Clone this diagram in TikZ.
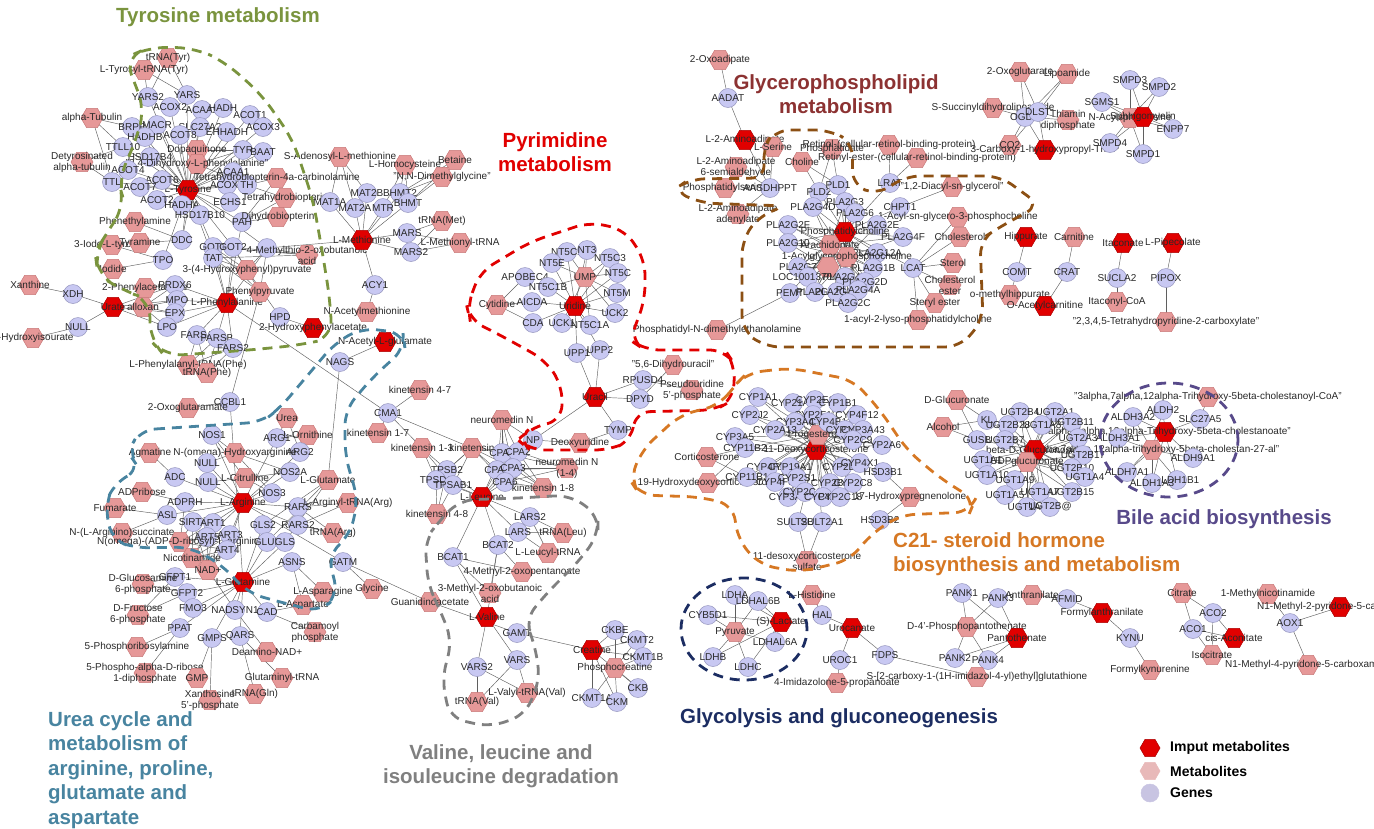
\documentclass[tikz,border=0pt]{standalone}
\usepackage{fontspec}
\setmainfont{Liberation Sans}
\usetikzlibrary{shapes.geometric}
\pgfdeclarelayer{bg}
\pgfsetlayers{bg,main}
\definecolor{genefill}{RGB}{200,200,242}
\definecolor{genedraw}{RGB}{150,150,190}
\definecolor{metfill}{RGB}{230,152,152}
\definecolor{metdraw}{RGB}{200,120,120}
\definecolor{inpfill}{RGB}{225,0,0}
\definecolor{inpdraw}{RGB}{170,0,0}
\definecolor{labcol}{RGB}{40,40,40}
\definecolor{edgecol}{RGB}{95,95,95}
\definecolor{olivec}{RGB}{122,148,62}
\definecolor{bluec}{RGB}{72,132,160}
\definecolor{pyrc}{RGB}{225,0,0}
\definecolor{grayc}{RGB}{128,128,128}
\definecolor{orangec}{RGB}{214,120,36}
\definecolor{brownc}{RGB}{140,80,20}
\definecolor{navyc}{RGB}{28,45,98}
\definecolor{purplec}{RGB}{88,74,138}
\definecolor{glycc}{RGB}{140,50,50}
\definecolor{legmet}{RGB}{232,185,185}
\definecolor{leggene}{RGB}{200,196,226}
\tikzset{
  gene/.style={circle, fill=genefill, draw=genedraw, line width=0.5pt, minimum size=19pt, inner sep=0pt},
  met/.style={regular polygon, regular polygon sides=6, fill=metfill, draw=metdraw, line width=0.5pt, minimum size=22pt, inner sep=0pt},
  inp/.style={met, fill=inpfill, draw=inpdraw},
  every label/.style={font=\fontsize{10}{11}\selectfont, text=labcol, align=center, inner sep=0pt},
  edge/.style={draw=edgecol, line width=0.45pt},
  region/.style={line width=2.8pt, dash pattern=on 10pt off 7pt},
  ttl/.style={font=\bfseries\fontsize{20.5}{24.5}\selectfont, inner sep=0pt},
  legtext/.style={font=\bfseries\fontsize{14}{16}\selectfont, anchor=west, inner sep=0pt},
}
\newcommand{\gnode}[4]{\node[gene,label={center:{#4}}] (#1) at (#2,#3) {};}
\newcommand{\mnode}[4]{\node[met,label={center:{#4}}] (#1) at (#2,#3) {};}
\newcommand{\inode}[4]{\node[inp,label={center:{#4}}] (#1) at (#2,#3) {};}
\newcommand{\hub}[2]{\foreach \hh in {#2}{\draw[edge] (#1.center) -- (\hh.center);}}
\begin{document}
\begin{tikzpicture}[x=1pt,y=-1pt]
\useasboundingbox (0,0) rectangle (1374,828);
% ---------------- Tyrosine
\inode{tyr}{188}{190}{L-Tyrosine}
\mnode{trnatyr}{168}{58}{tRNA(Tyr)}
\mnode{tyrtrna}{144}{70}{L-Tyrosyl-tRNA(Tyr)}
\gnode{yars2}{148}{97}{YARS2}
\gnode{yars}{187}{95}{YARS}
\gnode{acox2}{170}{107}{ACOX2}
\gnode{acaa2}{202}{110}{ACAA2}
\gnode{hadh}{223}{108}{HADH}
\gnode{acot1}{250}{115}{ACOT1}
\gnode{acox3}{263}{127}{ACOX3}
\mnode{atub}{92}{118}{alpha-Tubulin}
\gnode{brpp}{132}{127}{BRPP}
\gnode{macr}{157}{125}{MACR}
\gnode{slc}{200}{127}{SLC27A2}
\gnode{acot8}{180}{135}{ACOT8}
\gnode{ehhadh}{227}{132}{EHHADH}
\gnode{hadhb}{145}{137}{HADHB}
\gnode{ttll}{123}{147}{TTLL10}
\gnode{hsd4}{150}{157}{HSD17B4}
\mnode{dopaq}{197}{150}{Dopaquinone}
\gnode{tyrg}{243}{150}{TYR}
\gnode{baat}{263}{152}{BAAT}
\mnode{detub}{82}{162}{Detyrosinated\\alpha-tubulin}
\mnode{dopa}{197}{164}{"3,4-Dihydroxy-L-phenylalanine"}
\gnode{acot4}{128}{170}{ACOT4}
\gnode{ttl}{112}{182}{TTL}
\gnode{acot6}{162}{180}{ACOT6}
\gnode{acot7}{140}{187}{ACOT7}
\gnode{acaa1}{233}{172}{ACAA1}
\gnode{acox1}{227}{185}{ACOX1}
\gnode{th}{247}{185}{TH}
\mnode{pterin}{277}{178}{Tetrahydrobiopterin-4a-carbinolamine}
\gnode{acot2}{157}{200}{ACOT2}
\gnode{hadha}{182}{205}{HADHA}
\gnode{echs}{230}{202}{ECHS1}
\mnode{thbp}{285}{198}{Tetrahydrobiopterin}
\gnode{hsd10}{200}{215}{HSD17B10}
\gnode{pah}{242}{222}{PAH}
\mnode{dhbp}{278}{217}{Dihydrobiopterin}
\mnode{phea}{135}{222}{Phenethylamine}
\gnode{ddc}{182}{240}{DDC}
\mnode{iodotyr}{112}{245}{3-Iodo-L-tyrosine}
\mnode{tyram}{140}{243}{Tyramine}
\gnode{got1}{213}{247}{GOT1}
\gnode{got2}{233}{247}{GOT2}
\gnode{il4i1}{267}{248}{}
\mnode{mtob}{307}{255}{4-Methylthio-2-oxobutanoic\\acid}
\gnode{tat}{213}{258}{TAT}
\gnode{tpo}{163}{260}{TPO}
\mnode{iodide}{113}{269}{Iodide}
\mnode{hpp}{247}{270}{3-(4-Hydroxyphenyl)pyruvate}
% ---------------- Phenylalanine
\inode{phe}{227}{303}{L-Phenylalanine}
\mnode{phpyr}{260}{292}{Phenylpyruvate}
\mnode{xan}{30}{285}{Xanthine}
\gnode{xdh}{73}{294}{XDH}
\gnode{null1}{78}{327}{NULL}
\mnode{hiu}{33}{338}{5-Hydroxyisourate}
\inode{urate}{113}{307}{Urate}
\mnode{allox}{143}{307}{alloxan}
\mnode{phacet}{145}{288}{2-Phenylacetamide}
\gnode{prdx6}{175}{285}{PRDX6}
\gnode{mpo}{177}{300}{MPO}
\gnode{epx}{175}{313}{EPX}
\gnode{lpo}{167}{327}{LPO}
\gnode{hpd}{280}{317}{HPD}
\inode{hpa}{313}{328}{2-Hydroxyphenylacetate}
\mnode{nacmet}{367}{312}{N-Acetylmethionine}
\gnode{acy1}{375}{285}{ACY1}
\inode{naglu}{385}{342}{N-Acetyl-L-glutamate}
\gnode{nags}{340}{362}{NAGS}
\gnode{farsa}{197}{335}{FARSA}
\gnode{farsb}{217}{338}{FARSB}
\gnode{fars2}{233}{348}{FARS2}
\mnode{phetrna}{188}{365}{L-Phenylalanyl-tRNA(Phe)}
\mnode{trnaphe}{207}{373}{tRNA(Phe)}
\gnode{ccbl1}{230}{402}{CCBL1}
\mnode{oxglm}{188}{408}{2-Oxoglutaramate}
% ---------------- Methionine
\inode{met}{362}{240}{L-Methionine}
\mnode{sam}{340}{157}{S-Adenosyl-L-methionine}
\mnode{hcy}{405}{165}{L-Homocysteine}
\mnode{betaine}{455}{160}{Betaine}
\mnode{dmg}{442}{177}{"N,N-Dimethylglycine"}
\gnode{mat1a}{330}{202}{MAT1A}
\gnode{mat2b}{367}{193}{MAT2B}
\gnode{mat2a}{355}{208}{MAT2A}
\gnode{bhmt2}{400}{193}{BHMT2}
\gnode{mtr}{383}{208}{MTR}
\gnode{bhmt}{408}{203}{BHMT}
\mnode{trnamet}{442}{221}{tRNA(Met)}
\gnode{mars}{407}{233}{MARS}
\mnode{mettrna}{460}{243}{L-Methionyl-tRNA}
\gnode{mars2}{411}{252}{MARS2}
% ---------------- Urea cycle
\mnode{urea}{287}{418}{Urea}
\gnode{nos1}{212}{435}{NOS1}
\gnode{arg1}{277}{438}{ARG1}
\mnode{orn}{308}{435}{L-Ornithine}
\gnode{arg2}{300}{452}{ARG2}
\mnode{agm}{150}{453}{Agmatine}
\mnode{nohar}{235}{453}{N-(omega)-Hydroxyarginine}
\gnode{null2}{207}{463}{NULL}
\gnode{adc}{175}{477}{ADC}
\gnode{null3}{208}{482}{NULL}
\mnode{cit}{245}{478}{L-Citrulline}
\gnode{nos2a}{290}{472}{NOS2A}
\mnode{glu}{328}{480}{L-Glutamate}
\gnode{nos3}{272}{493}{NOS3}
\mnode{adpr}{142}{492}{ADPribose}
\gnode{adprh}{185}{502}{ADPRH}
\inode{arg}{243}{503}{L-Arginine}
\gnode{rars}{298}{507}{RARS}
\mnode{argtrna}{348}{503}{L-Arginyl-tRNA(Arg)}
\mnode{fum}{115}{508}{Fumarate}
\gnode{asl}{167}{515}{ASL}
\gnode{sirt}{193}{522}{SIRT4}
\gnode{art1}{213}{523}{ART1}
\gnode{gls2}{263}{525}{GLS2}
\gnode{rars2}{298}{525}{RARS2}
\mnode{trnaarg}{333}{533}{tRNA(Arg)}
\mnode{argsuc}{122}{533}{N-(L-Arginino)succinate}
\gnode{art5}{207}{537}{ART5}
\gnode{art3}{230}{535}{ART3}
\mnode{adprarg}{180}{542}{N(omega)-(ADP-D-ribosyl)-L-arginine}
\gnode{glul}{267}{542}{GLUL}
\gnode{gls}{285}{542}{GLS}
\gnode{art4}{227}{550}{ART4}
\mnode{nicam}{192}{558}{Nicotinamide}
\mnode{nad}{208}{570}{NAD+}
\inode{gln}{243}{582}{L-Glutamine}
\gnode{asns}{292}{562}{ASNS}
\gnode{gatm}{343}{562}{GATM}
\mnode{gly}{372}{589}{Glycine}
\mnode{gaa}{430}{602}{Guanidinoacetate}
\gnode{gfpt1}{175}{577}{GFPT1}
\mnode{glcn6p}{143}{584}{D-Glucosamine\\6-phosphate}
\gnode{gfpt2}{187}{593}{GFPT2}
\gnode{fmo3}{193}{608}{FMO3}
\mnode{fru6p}{138}{615}{D-Fructose\\6-phosphate}
\gnode{nadsyn1}{235}{610}{NADSYN1}
\gnode{cad}{267}{612}{CAD}
\mnode{asn}{323}{592}{L-Asparagine}
\mnode{asp}{303}{605}{L-Aspartate}
\mnode{cbp}{315}{632}{Carbamoyl\\phosphate}
\gnode{ppat}{180}{628}{PPAT}
\gnode{gmps}{212}{638}{GMPS}
\gnode{qars}{240}{636}{QARS}
\mnode{pra}{137}{647}{5-Phosphoribosylamine}
\mnode{dnad}{267}{652}{Deamino-NAD+}
\mnode{prpp}{145}{673}{5-Phospho-alpha-D-ribose\\1-diphosphate}
\mnode{gmp}{197}{678}{GMP}
\mnode{glntrna}{282}{678}{Glutaminyl-tRNA}
\mnode{trnagln}{255}{694}{tRNA(Gln)}
\mnode{xmp}{210}{700}{Xanthosine\\5'-phosphate}
% ---------------- kinetensin / CMA1
\mnode{kin47}{420}{390}{kinetensin 4-7}
\gnode{cma1}{388}{413}{CMA1}
\mnode{kin17}{378}{433}{kinetensin 1-7}
\mnode{kin13}{422}{448}{kinetensin 1-3}
\gnode{tpsb2}{447}{470}{TPSB2}
\gnode{tpsd1}{436}{480}{TPSD1}
\gnode{tpsab1}{453}{485}{TPSAB1}
\mnode{kin48}{437}{514}{kinetensin 4-8}
\mnode{kin}{472}{448}{kinetensin}
\mnode{neun}{502}{420}{neuromedin N}
\gnode{np}{533}{440}{NP}
\gnode{cpa4}{502}{453}{CPA4}
\gnode{cpa2}{518}{452}{CPA2}
\gnode{cpa1}{497}{470}{CPA1}
\gnode{cpa3}{513}{468}{CPA3}
\gnode{cpa6}{505}{482}{CPA6}
\mnode{neun14}{567}{468}{neuromedin N\\(1-4)}
\mnode{kin18}{543}{488}{kinetensin 1-8}
% ---------------- Pyrimidine
\gnode{nt5c2}{567}{252}{NT5C2}
\gnode{nt3}{587}{250}{NT3}
\gnode{nt5c3}{610}{258}{NT5C3}
\gnode{nt5e}{552}{263}{NT5E}
\mnode{ump}{585}{277}{UMP}
\gnode{nt5c}{618}{273}{NT5C}
\gnode{apobec4}{525}{277}{APOBEC4}
\gnode{nt5c1b}{548}{287}{NT5C1B}
\gnode{nt5m}{617}{293}{NT5M}
\mnode{cytd}{497}{305}{Cytidine}
\gnode{aicda}{532}{302}{AICDA}
\inode{urid}{575}{306}{Uridine}
\gnode{uck2}{615}{313}{UCK2}
\gnode{cda}{533}{323}{CDA}
\gnode{uck1}{562}{323}{UCK1}
\gnode{nt5c1a}{590}{325}{NT5C1A}
\gnode{upp1}{577}{353}{UPP1}
\gnode{upp2}{600}{350}{UPP2}
\inode{ura}{595}{397}{Uracil}
\mnode{dhu}{673}{365}{"5,6-Dihydrouracil"}
\gnode{rpusd4}{643}{380}{RPUSD4}
\mnode{psu}{692}{390}{Pseudouridine\\5'-phosphate}
\gnode{dpyd}{640}{399}{DPYD}
\gnode{tymp}{618}{430}{TYMP}
\mnode{dud}{580}{443}{Deoxyuridine}
% ---------------- Leucine / Valine
\inode{leu}{482}{497}{L-Leucine}
\gnode{lars2}{530}{517}{LARS2}
\gnode{lars}{518}{532}{LARS}
\mnode{trnaleu}{563}{533}{tRNA(Leu)}
\gnode{bcat2}{498}{545}{BCAT2}
\mnode{leutrna}{548}{553}{L-Leucyl-tRNA}
\gnode{bcat1}{453}{557}{BCAT1}
\mnode{mop}{522}{572}{4-Methyl-2-oxopentanoate}
\mnode{mob}{490}{593}{3-Methyl-2-oxobutanoic\\acid}
\inode{val}{487}{617}{L-Valine}
\gnode{gamt}{517}{633}{GAMT}
\inode{crea}{592}{650}{Creatine}
\gnode{ckbe}{615}{630}{CKBE}
\gnode{ckmt2}{637}{640}{CKMT2}
\gnode{ckmt1b}{643}{657}{CKMT1B}
\mnode{pcr}{615}{668}{Phosphocreatine}
\gnode{ckb}{638}{688}{CKB}
\gnode{ckmt1a}{592}{698}{CKMT1A}
\gnode{ckm}{617}{702}{CKM}
\gnode{vars2}{477}{667}{VARS2}
\gnode{vars}{517}{660}{VARS}
\mnode{trnaval}{477}{702}{tRNA(Val)}
\mnode{valtrna}{527}{693}{L-Valyl-tRNA(Val)}
% ---------------- Glycerophospholipid
\mnode{oxoad}{720}{60}{2-Oxoadipate}
\gnode{aadat}{728}{98}{AADAT}
\inode{aad}{745}{140}{L-2-Aminoadipate}
\mnode{ser}{773}{147}{L-Serine}
\mnode{pa}{832}{149}{Phosphatidate}
\mnode{retinol}{889}{145}{Retinol-(cellular-retinol-binding-protein)}
\mnode{aasa}{736}{167}{L-2-Aminoadipate\\6-semialdehyde}
\mnode{chol}{802}{162}{Choline}
\mnode{retester}{917}{158}{Retinyl-ester-(cellular-retinol-binding-protein)}
\mnode{ps}{725}{188}{Phosphatidylserine}
\gnode{aasdhppt}{770}{188}{AASDHPPT}
\gnode{pld2}{819}{192}{PLD2}
\gnode{pld1}{838}{185}{PLD1}
\gnode{lrat}{890}{183}{LRAT}
\mnode{dag}{952}{187}{"1,2-Diacyl-sn-glycerol"}
\mnode{aadad}{738}{214}{L-2-Aminoadipate\\adenylate}
\gnode{pla2g3}{845}{202}{PLA2G3}
\gnode{chpt1}{900}{207}{CHPT1}
\gnode{pla2g4d}{813}{207}{PLA2G4D}
\gnode{pla2g6}{855}{213}{PLA2G6}
\mnode{lpc}{958}{217}{1-Acyl-sn-glycero-3-phosphocholine}
\gnode{pla2g2f}{788}{225}{PLA2G2F}
\gnode{pla2g2e}{877}{225}{PLA2G2E}
\inode{pc}{845}{232}{Phosphatidylcholine}
\inode{hipp}{1026}{237}{Hippurate}
\mnode{cholest}{960}{237}{Cholesterol}
\gnode{pla2g4f}{903}{237}{PLA2G4F}
\gnode{pla2g10}{788}{243}{PLA2G10}
\mnode{arach}{830}{245}{Arachidonate}
\gnode{pla2g12a}{877}{253}{PLA2G12A}
\mnode{agpc}{847}{257}{1-Acylglycerophosphocholine}
\gnode{pla2g7}{798}{267}{PLA2G7}
\mnode{lyso}{828}{267}{}
\gnode{pla2g1b}{873}{268}{PLA2G1B}
\gnode{lcat}{913}{268}{LCAT}
\mnode{sterol}{953}{263}{Sterol}
\gnode{loc}{808}{277}{LOC100137047}
\gnode{pla2g4e}{845}{277}{PLA2G4E}
\gnode{pla2g2d}{865}{282}{PLA2G2D}
\mnode{chester}{950}{285}{Cholesterol\\ester}
\gnode{pemt}{790}{293}{PEMT}
\gnode{pla2g5}{815}{292}{PLA2G5}
\gnode{pla2g2a}{837}{292}{PLA2G2A}
\gnode{pla2g4a}{858}{290}{PLA2G4A}
\gnode{pla2g2c}{848}{303}{PLA2G2C}
\mnode{stester}{935}{303}{Steryl ester}
\mnode{lysopc}{918}{320}{1-acyl-2-lyso-phosphatidylcholine}
\mnode{pdme}{717}{330}{Phosphatidyl-N-dimethylethanolamine}
\gnode{comt}{1017}{272}{COMT}
\mnode{omh}{1010}{295}{o-methylhippurate}
% ---------------- OGDH / SMPD / misc
\mnode{oxglut}{1020}{72}{2-Oxoglutarate}
\mnode{lipo}{1067}{74}{Lipoamide}
\mnode{ssdl}{993}{108}{S-Succinyldihydrolipoamide}
\gnode{ogdh}{1025}{117}{OGDH}
\gnode{dlst}{1038}{112}{DLST}
\mnode{tpp}{1068}{120}{Thiamin\\diphosphate}
\mnode{co2}{1010}{145}{CO2}
\inode{cthpp}{1045}{150}{3-Carboxy-1-hydroxypropyl-ThPP}
\gnode{smpd3}{1130}{80}{SMPD3}
\gnode{smpd2}{1159}{87}{SMPD2}
\gnode{sgms1}{1102}{102}{SGMS1}
\mnode{nas}{1130}{118}{N-Acylsphingosine}
\inode{sm}{1143}{117}{Sphingomyelin}
\gnode{enpp7}{1173}{129}{ENPP7}
\gnode{smpd4}{1110}{143}{SMPD4}
\gnode{smpd1}{1143}{154}{SMPD1}
\mnode{carn}{1074}{237}{Carnitine}
\gnode{crat}{1067}{272}{CRAT}
\inode{oacc}{1045}{306}{O-Acetylcarnitine}
\inode{itac}{1123}{243}{Itaconate}
\inode{pip}{1173}{243}{L-Pipecolate}
\gnode{sucla2}{1117}{278}{SUCLA2}
\gnode{pipox}{1166}{278}{PIPOX}
\mnode{itacoa}{1117}{302}{Itaconyl-CoA}
\mnode{thp}{1166}{322}{"2,3,4,5-Tetrahydropyridine-2-carboxylate"}
% ---------------- C21 steroid
\inode{doc}{816}{450}{11-Deoxycorticosterone}
\mnode{prog}{818}{435}{Progesterone}
\gnode{cyp1a1}{758}{397}{CYP1A1}
\gnode{cyp21}{793}{403}{CYP21A2}
\gnode{cyp2e1}{815}{400}{CYP2E1}
\gnode{cyp1b1}{838}{403}{CYP1B1}
\gnode{cyp2j2}{750}{415}{CYP2J2}
\gnode{cyp2f1}{813}{415}{CYP2F1}
\gnode{cyp4f12}{857}{415}{CYP4F12}
\gnode{cyp3a4}{795}{422}{CYP3A4}
\gnode{cyp4b1}{828}{422}{CYP4B1}
\gnode{cyp2a13}{775}{430}{CYP2A13}
\gnode{cyp1a2}{845}{430}{CYP1A2}
\gnode{cyp3a43}{863}{430}{CYP3A43}
\gnode{cyp3a5}{735}{437}{CYP3A5}
\gnode{cyp11b2}{745}{448}{CYP11B2}
\gnode{cyp2c9}{853}{440}{CYP2C9}
\gnode{cyp2a6}{882}{445}{CYP2A6}
\mnode{cort}{707}{457}{Corticosterone}
\gnode{cyp4f11}{768}{467}{CYP4F11}
\gnode{cyp19a1}{790}{467}{CYP19A1}
\gnode{cyp2d6}{842}{467}{CYP2D6}
\gnode{cyp4x1}{860}{463}{CYP4X1}
\gnode{hsd3b1}{883}{472}{HSD3B1}
\mnode{ohdoc}{708}{483}{19-Hydroxydeoxycorticosterone}
\gnode{cyp11b1}{747}{477}{CYP11B1}
\gnode{cyp4f8}{775}{482}{CYP4F8}
\gnode{cyp2s1}{797}{478}{CYP2S1}
\gnode{cyp2b6}{830}{483}{CYP2B6}
\gnode{cyp2c8}{853}{483}{CYP2C8}
\gnode{cyp3a7}{788}{497}{CYP3A7}
\gnode{cyp2c19}{805}{492}{CYP2C19}
\gnode{cyp4z1}{823}{497}{CYP4Z1}
\gnode{cyp2c18}{840}{497}{CYP2C18}
\mnode{ohp}{910}{497}{17-Hydroxypregnenolone}
\gnode{sult2b1}{798}{522}{SULT2B1}
\gnode{sult2a1}{822}{522}{SULT2A1}
\gnode{hsd3b2}{880}{520}{HSD3B2}
\mnode{docs}{807}{561}{11-desoxycorticosterone\\sulfate}
% ---------------- Bile acid
\mnode{thcacoa}{1208}{397}{"3alpha,7alpha,12alpha-Trihydroxy-5beta-cholestanoyl-CoA"}
\gnode{aldh3a2}{1133}{417}{ALDH3A2}
\gnode{aldh2}{1163}{410}{ALDH2}
\gnode{slc27a5}{1200}{419}{SLC27A5}
\inode{thca}{1165}{432}{"3alpha,7alpha,12alpha-Trihydroxy-5beta-cholestanoate"}
\gnode{aldh3a1}{1118}{438}{ALDH3A1}
\mnode{thcal}{1152}{450}{"3alpha,7alpha,12alpha-trihydroxy-5beta-cholestan-27-al"}
\gnode{aldh9a1}{1193}{458}{ALDH9A1}
\gnode{aldh7a1}{1127}{472}{ALDH7A1}
\gnode{aldh1b1}{1177}{480}{ALDH1B1}
\gnode{aldh1a3}{1152}{483}{ALDH1A3}
% ---------------- UGT
\mnode{dglcur}{957}{400}{D-Glucuronate}
\gnode{kl}{987}{420}{KL}
\mnode{alc}{943}{427}{Alcohol}
\gnode{gusb}{977}{440}{GUSB}
\gnode{ugt2b4}{1020}{412}{UGT2B4}
\gnode{ugt2a1}{1055}{412}{UGT2A1}
\gnode{ugt2b28}{1008}{425}{UGT2B28}
\gnode{ugt1a8}{1042}{425}{UGT1A8}
\gnode{ugt2b11}{1072}{422}{UGT2B11}
\gnode{ugt2b7}{1005}{440}{UGT2B7}
\gnode{ugt2a3}{1078}{438}{UGT2A3}
\inode{glcs}{1035}{450}{beta-D-Glucuronoside}
\gnode{ugt2b17}{1083}{455}{UGT2B17}
\gnode{ugt1a1}{983}{460}{UGT1A1}
\mnode{udpga}{1027}{462}{UDPglucuronate}
\gnode{ugt2b10}{1072}{468}{UGT2B10}
\gnode{ugt1a4}{1085}{477}{UGT1A4}
\gnode{ugt1a10}{987}{475}{UGT1A10}
\gnode{ugt1a9}{1015}{480}{UGT1A9}
\gnode{ugt1a7}{1040}{492}{UGT1A7}
\gnode{ugt2b15}{1072}{492}{UGT2B15}
\gnode{ugt1a5}{1005}{495}{UGT1A5}
\gnode{ugt1a6}{1027}{507}{UGT1A6}
\gnode{ugt2bat}{1050}{507}{UGT2B@}
% ---------------- bottom row
\gnode{ldha}{735}{595}{LDHA}
\gnode{ldhal6b}{758}{601}{LDHAL6B}
\mnode{his}{812}{595}{L-Histidine}
\gnode{cyb5d1}{708}{615}{CYB5D1}
\inode{lac}{781}{622}{(S)-Lactate}
\gnode{hal}{822}{615}{HAL}
\mnode{pyr}{735}{632}{Pyruvate}
\gnode{ldhal6a}{775}{642}{LDHAL6A}
\inode{uroc}{852}{628}{Urocanate}
\gnode{ldhb}{713}{657}{LDHB}
\gnode{ldhc}{748}{667}{LDHC}
\gnode{uroc1}{840}{660}{UROC1}
\gnode{fdps}{885}{655}{FDPS}
\mnode{imp}{837}{683}{4-Imidazolone-5-propanoate}
\gnode{pank1}{962}{593}{PANK1}
\gnode{pank3}{998}{598}{PANK3}
\mnode{d4p}{967}{627}{D-4'-Phosphopantothenate}
\inode{pant}{1017}{638}{Pantothenate}
\gnode{pank2}{955}{658}{PANK2}
\gnode{pank4}{988}{660}{PANK4}
\mnode{scg}{977}{677}{S-[2-carboxy-1-(1H-imidazol-4-yl)ethyl]glutathione}
\mnode{anth}{1032}{595}{Anthranilate}
\gnode{afmid}{1067}{599}{AFMID}
\inode{fanth}{1102}{613}{Formylanthranilate}
\gnode{kynu}{1130}{638}{KYNU}
\mnode{fkyn}{1150}{670}{Formylkynurenine}
\mnode{citr}{1182}{593}{Citrate}
\gnode{aco2}{1213}{613}{ACO2}
\gnode{aco1}{1193}{629}{ACO1}
\inode{cisaco}{1234}{638}{cis-Aconitate}
\mnode{isocit}{1212}{655}{Isocitrate}
\mnode{mna}{1268}{594}{1-Methylnicotinamide}
\inode{n2py}{1340}{607}{N1-Methyl-2-pyridone-5-carboxamide}
\gnode{aox1}{1290}{623}{AOX1}
\mnode{n4py}{1308}{665}{N1-Methyl-4-pyridone-5-carboxamide}
% ---------------- edges
\begin{pgfonlayer}{bg}
\hub{tyr}{yars,yars2,acox2,acaa2,hadh,acot1,acox3,macr,slc,acot8,ehhadh,hadhb,hsd4,tyrg,baat,acot4,acot6,acot7,acaa1,acox1,th,acot2,hadha,echs,hsd10,pah,ddc,got1,got2,tat,tpo,il4i1,brpp,ttll,ttl}
\hub{trnatyr}{yars,yars2}
\hub{tyrtrna}{yars,yars2}
\hub{atub}{brpp,ttll,ttl}
\hub{detub}{ttll,ttl}
\hub{dopaq}{tyrg}
\hub{dopa}{tyrg,th,ddc}
\hub{pterin}{th,pah}
\hub{thbp}{th,pah}
\hub{dhbp}{pah}
\hub{phea}{ddc}
\hub{tyram}{ddc}
\hub{iodotyr}{tpo}
\hub{iodide}{tpo}
\hub{hpp}{got1,got2,tat,hpd,il4i1}
\hub{mtob}{il4i1,got1,got2,tat}
\hub{phe}{farsa,farsb,fars2,pah,got1,got2,tat,prdx6,mpo,epx,lpo,il4i1,cma1}
\hub{phpyr}{got1,got2,tat,il4i1,ccbl1}
\hub{urate}{xdh,null1,prdx6,mpo,epx,lpo}
\hub{xan}{xdh}
\hub{hiu}{null1}
\hub{allox}{prdx6,mpo,epx,lpo}
\hub{phacet}{prdx6}
\hub{hpa}{hpd}
\hub{nacmet}{acy1}
\hub{met}{acy1,mat1a,mat2a,mat2b,mtr,bhmt,bhmt2,mars,mars2,il4i1}
\hub{naglu}{nags}
\hub{nags}{glu}
\hub{phetrna}{farsa,farsb,fars2}
\hub{trnaphe}{farsa,farsb,fars2}
\hub{ccbl1}{oxglm,gln}
\hub{sam}{mat1a,mat2a,mat2b}
\hub{hcy}{mtr,bhmt,bhmt2}
\hub{betaine}{bhmt,bhmt2}
\hub{dmg}{bhmt,bhmt2}
\hub{trnamet}{mars,mars2}
\hub{mettrna}{mars,mars2}
\hub{arg}{nos1,nos2a,nos3,arg1,arg2,adc,asl,rars,rars2,adprh,sirt,art1,art3,art4,art5,gatm,null2,null3}
\hub{urea}{arg1,arg2}
\hub{orn}{arg1,arg2}
\hub{agm}{adc}
\hub{nohar}{nos1,nos2a,nos3,null2}
\hub{cit}{nos1,nos2a,nos3,null3}
\hub{adpr}{adprh}
\hub{fum}{asl}
\hub{argsuc}{asl}
\hub{adprarg}{art1,art3,art4,art5,sirt,adprh}
\hub{argtrna}{rars,rars2}
\hub{trnaarg}{rars,rars2}
\hub{nicam}{art1,art3,art4,art5,sirt}
\hub{nad}{art1,art3,art4,art5,sirt,nadsyn1}
\hub{glu}{gls2,gls,glul}
\hub{gln}{gls2,gls,glul,asns,cad,gfpt1,gfpt2,fmo3,nadsyn1,ppat,gmps,qars}
\hub{glcn6p}{gfpt1,gfpt2}
\hub{fru6p}{gfpt1,gfpt2}
\hub{pra}{ppat}
\hub{prpp}{ppat}
\hub{gmp}{gmps}
\hub{xmp}{gmps}
\hub{dnad}{nadsyn1}
\hub{glntrna}{qars}
\hub{trnagln}{qars}
\hub{asn}{asns}
\hub{asp}{asns,cad}
\hub{cbp}{cad}
\hub{gatm}{gly,gaa}
\hub{gaa}{gamt}
\hub{cma1}{kin47,kin17,kin13,kin}
\foreach \tt in {tpsb2,tpsd1,tpsab1}{\hub{\tt}{kin13,kin48,kin,leu}}
\foreach \cc in {cpa4,cpa2,cpa1,cpa3,cpa6}{\hub{\cc}{kin,kin18,neun,neun14,leu}}
\hub{np}{neun,ura,dud}
\hub{urid}{nt5c2,nt3,nt5c3,nt5e,nt5c,nt5c1b,nt5m,uck2,uck1,nt5c1a,cda,upp1,upp2,aicda}
\hub{ump}{nt5c2,nt3,nt5c3,nt5e,nt5c,nt5c1b,nt5m,uck2,uck1,nt5c1a}
\hub{cytd}{cda,aicda,apobec4}
\hub{ura}{upp1,upp2,rpusd4,dpyd,tymp}
\hub{dhu}{dpyd}
\hub{psu}{rpusd4}
\hub{dud}{tymp}
\hub{leu}{lars,lars2,bcat1,bcat2}
\hub{trnaleu}{lars,lars2}
\hub{leutrna}{lars,lars2}
\hub{mop}{bcat1,bcat2}
\hub{mob}{bcat1,bcat2}
\hub{val}{bcat1,bcat2,vars,vars2}
\hub{trnaval}{vars,vars2}
\hub{valtrna}{vars,vars2}
\hub{gamt}{crea}
\hub{crea}{ckbe,ckmt2,ckmt1b,ckb,ckmt1a,ckm}
\hub{pcr}{ckbe,ckmt2,ckmt1b,ckb,ckmt1a,ckm}
\hub{aadat}{oxoad,aad}
\hub{aasdhppt}{aad,aasa,aadad,ser}
\hub{pa}{pld1,pld2}
\hub{chol}{pld1,pld2}
\hub{lrat}{retinol,retester,pc}
\hub{pc}{pla2g3,pla2g4d,pla2g6,pla2g2f,pla2g2e,pla2g4f,pla2g10,pla2g12a,pla2g7,pla2g1b,loc,pla2g4e,pla2g2d,pemt,pla2g5,pla2g2a,pla2g4a,pla2g2c,pld1,pld2,chpt1,lcat}
\hub{arach}{pla2g3,pla2g4d,pla2g6,pla2g2f,pla2g2e,pla2g4f,pla2g10,pla2g12a,pla2g7,pla2g1b,loc,pla2g4e,pla2g2d,pla2g5,pla2g2a,pla2g4a,pla2g2c}
\hub{agpc}{pla2g3,pla2g4d,pla2g6,pla2g2f,pla2g2e,pla2g4f,pla2g10,pla2g12a,pla2g7,pla2g1b,loc,pla2g4e,pla2g2d,pla2g5,pla2g2a,pla2g4a,pla2g2c}
\hub{lyso}{pla2g10,pla2g7,loc,pla2g5}
\hub{dag}{chpt1}
\hub{lcat}{lpc,cholest,sterol,chester,stester,lysopc}
\hub{pdme}{pemt}
\hub{comt}{hipp,omh}
\foreach \gg in {ogdh,dlst}{\hub{\gg}{oxglut,lipo,ssdl,tpp,co2,cthpp}}
\foreach \gg in {sm,nas}{\hub{\gg}{smpd3,smpd2,sgms1,enpp7,smpd4,smpd1}}
\hub{crat}{carn,oacc}
\hub{sucla2}{itac,itacoa}
\hub{pipox}{pip,thp}
\foreach \gg in {doc,prog}{\hub{\gg}{cyp1a1,cyp21,cyp2e1,cyp1b1,cyp2j2,cyp2f1,cyp4f12,cyp3a4,cyp4b1,cyp2a13,cyp1a2,cyp3a43,cyp3a5,cyp11b2,cyp2c9,cyp2a6,cyp4f11,cyp19a1,cyp2d6,cyp4x1,cyp11b1,cyp4f8,cyp2s1,cyp2b6,cyp2c8,cyp3a7,cyp2c19,cyp4z1,cyp2c18}}
\hub{doc}{hsd3b1,sult2a1,sult2b1}
\hub{cort}{cyp11b1,cyp11b2}
\hub{ohdoc}{cyp11b1,cyp11b2}
\hub{ohp}{hsd3b1,hsd3b2}
\hub{docs}{sult2a1,sult2b1}
\foreach \gg in {glcs,udpga}{\hub{\gg}{ugt2b4,ugt2a1,ugt2b28,ugt1a8,ugt2b11,ugt2b7,ugt2a3,ugt2b17,ugt1a1,ugt2b10,ugt1a4,ugt1a9,ugt1a10,ugt1a7,ugt2b15,ugt1a5,ugt1a6,ugt2bat}}
\hub{kl}{dglcur,alc,glcs}
\hub{gusb}{dglcur,alc,glcs}
\foreach \gg in {thca,thcal}{\hub{\gg}{aldh3a2,aldh2,aldh3a1,aldh9a1,aldh7a1,aldh1b1,aldh1a3}}
\hub{slc27a5}{thca,thcacoa}
\foreach \gg in {lac,pyr}{\hub{\gg}{ldha,ldhal6b,ldhal6a,ldhb,ldhc,cyb5d1}}
\hub{hal}{his,uroc}
\hub{uroc1}{uroc,imp}
\hub{fdps}{uroc,scg}
\foreach \gg in {d4p,pant}{\hub{\gg}{pank1,pank2,pank3,pank4}}
\hub{afmid}{anth,fanth}
\hub{kynu}{fanth,fkyn}
\foreach \gg in {citr,cisaco,isocit}{\hub{\gg}{aco1,aco2}}
\hub{aox1}{mna,n2py,n4py}
\end{pgfonlayer}
% ---------------- region outlines
\draw[region, olivec, rounded corners=18pt] (125,58) -- (150,47) -- (195,48) -- (225,62) -- (262,95) -- (293,140) -- (313,200) -- (322,250) -- (330,300) -- (332,338) -- (300,345) -- (250,350) -- (165,356) -- (150,340) -- (150,300) -- (122,290) -- (98,275) -- (95,252) -- (107,233) -- (125,205) -- (118,180) -- (133,148) -- (145,110) -- cycle;
\draw[region, bluec, rounded corners=15pt] (140,430) -- (262,422) -- (280,408) -- (335,343) -- (362,328) -- (403,333) -- (405,348) -- (372,378) -- (345,410) -- (345,455) -- (358,500) -- (350,535) -- (328,555) -- (338,595) -- (320,612) -- (280,602) -- (248,593) -- (222,565) -- (190,547) -- (135,548) -- (112,540) -- (105,505) -- (115,482) -- (140,470) -- (128,452) -- cycle;
\draw[region, pyrc, rounded corners=15pt] (467,307) -- (480,272) -- (530,242) -- (590,222) -- (625,230) -- (645,260) -- (645,300) -- (630,340) -- (645,350) -- (725,350) -- (735,365) -- (733,400) -- (715,410) -- (635,412) -- (632,440) -- (610,450) -- (530,450) -- (518,440) -- (530,428) -- (562,420) -- (562,385) -- (545,360) -- (500,335) -- (470,320) -- cycle;
\draw[region, grayc, rounded corners=15pt] (440,520) -- (460,500) -- (520,498) -- (570,495) -- (598,515) -- (598,535) -- (580,560) -- (545,595) -- (525,620) -- (535,645) -- (540,680) -- (525,715) -- (490,727) -- (450,718) -- (442,680) -- (452,640) -- (440,610) -- (428,585) -- (425,540) -- cycle;
\draw[region, orangec, rounded corners=15pt] (747,373) -- (790,368) -- (853,380) -- (880,410) -- (907,450) -- (940,478) -- (975,500) -- (970,512) -- (900,515) -- (870,535) -- (850,560) -- (800,572) -- (760,565) -- (738,540) -- (733,505) -- (700,497) -- (640,495) -- (630,480) -- (642,450) -- (680,415) -- (720,405) -- (735,385) -- cycle;
\draw[region, brownc, rounded corners=15pt] (762,150) -- (775,130) -- (830,130) -- (853,143) -- (852,185) -- (878,195) -- (905,176) -- (1000,176) -- (1040,205) -- (998,228) -- (980,240) -- (983,320) -- (960,347) -- (765,347) -- (742,330) -- (742,240) -- (760,215) -- (787,206) -- (700,203) -- (673,190) -- (690,179) -- (766,178) -- cycle;
\draw[region, navyc] (744,629) ellipse [x radius=63pt, y radius=51pt];
\draw[region, purplec] (1169,440) ellipse [x radius=69pt, y radius=57pt];
% ---------------- titles
\node[ttl, text=olivec] (t1) at (218,17) {Tyrosine metabolism};
\node[ttl, text=glycc, align=center] (t2) at (836,94) {Glycerophospholipid\\metabolism};
\node[ttl, text=pyrc, align=center] (t3) at (555,152) {Pyrimidine\\metabolism};
\node[ttl, text=orangec, align=left, anchor=west] (t4) at (893,554) {C21- steroid hormone\\biosynthesis and metabolism};
\node[ttl, text=purplec] (t5) at (1224,519) {Bile acid biosynthesis};
\node[ttl, text=navyc] (t6) at (839,718) {Glycolysis and gluconeogenesis};
\node[ttl, text=grayc, align=center] (t7) at (501,766) {Valine, leucine and\\isouleucine degradation};
\node[ttl, text=bluec, align=left, anchor=west] (t8) at (48,770) {Urea cycle and\\metabolism of\\arginine, proline,\\glutamate and\\aspartate};
% ---------------- legend
\node[inp, minimum size=20pt] (legi) at (1150,748) {};
\node[legtext] (legit) at (1170,748) {Imput metabolites};
\node[met, fill=legmet, draw=legmet, minimum size=20pt] (legm) at (1150,771) {};
\node[legtext] (legmt) at (1170,771) {Metabolites};
\node[gene, fill=leggene, draw=leggene, minimum size=18pt] (legg) at (1150,793) {};
\node[legtext] (leggt) at (1170,793) {Genes};
\end{tikzpicture}
\end{document}
